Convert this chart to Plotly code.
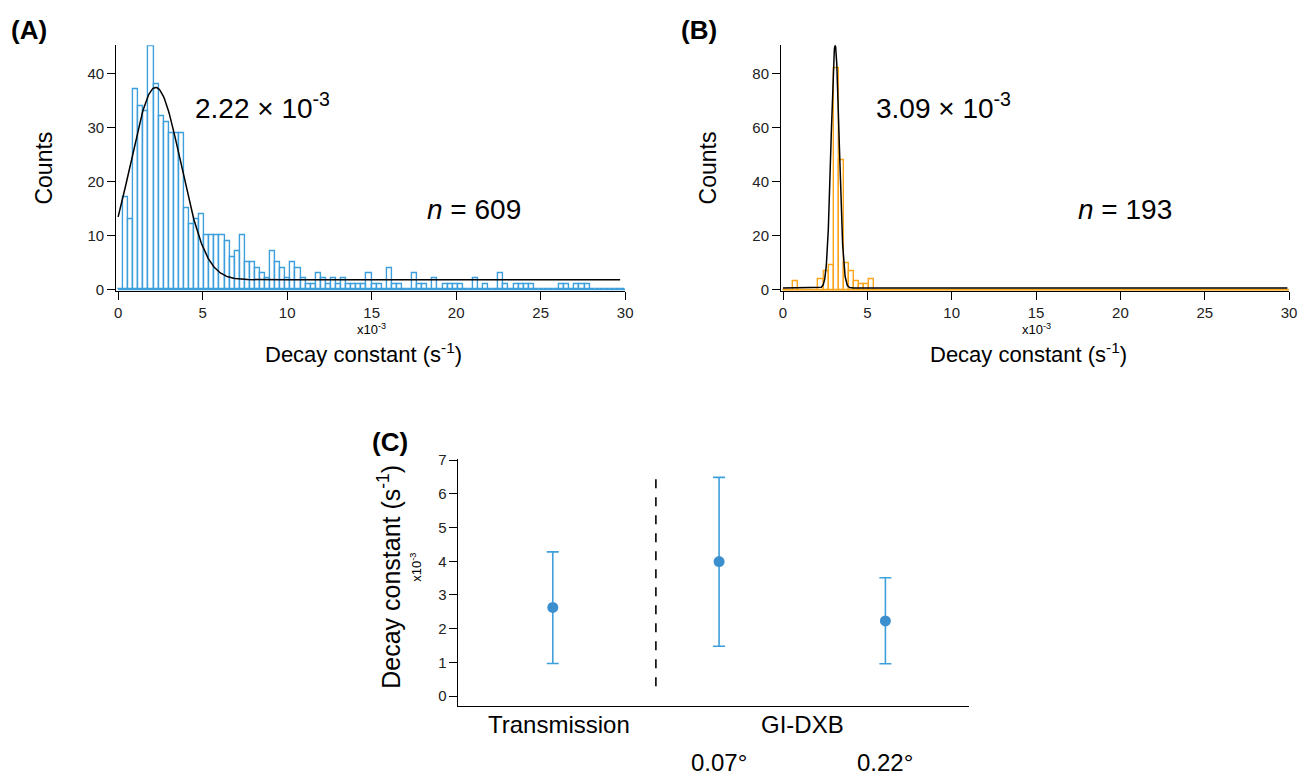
import numpy as np
import plotly.graph_objects as go

# ---------------- data ----------------
BIN_WIDTH = 0.3  # x10^-3 s^-1
A_COUNTS = [0, 17, 13, 37, 34, 33, 45, 38, 32, 31,
            29, 29, 29, 15, 12, 13, 14, 10, 10, 10,
            10, 9, 6, 7, 10, 5, 5, 4, 3, 2,
            7, 5, 4, 2, 5, 4, 2, 1, 1, 3,
            2, 1, 2, 1, 2, 1, 1, 1, 1, 3,
            1, 1, 0, 4, 1, 1, 0, 0, 3, 1,
            1, 0, 2, 0, 1, 1, 1, 1, 0, 0,
            2, 0, 1, 0, 0, 3, 1, 0, 1, 1,
            1, 1, 0, 0, 0, 0, 0, 1, 1, 0,
            1, 1, 1, 0, 0, 0, 0, 0, 0, 0]
B_COUNTS = [0, 0, 3, 0, 0, 0, 0, 4, 7, 9,
            82, 48, 10, 7, 3, 2, 2, 4] + [0] * 82

# Gaussian fits: (baseline, amplitude, centre, width)
A_FIT = (1.8, 35.6, 2.22, 2.10)
B_FIT = (0.7, 89.8, 3.09, 0.34)
A_N, B_N = 609, 193
A_LABEL, B_LABEL = "2.22", "3.09"

C_GROUPS = ["Transmission", "0.07°", "0.22°"]
C_POS = [1, 2, 3]
C_MEAN = [2.63, 3.99, 2.23]
C_UPPER = [4.28, 6.49, 3.51]
C_LOWER = [0.97, 1.48, 0.96]

# ---------------- helpers ----------------
W, H = 1307, 777
def px(x):
    return x / W
def py(y):
    return 1 - y / H

BLUE = "#3d9fdc"
ORANGE = "#fba51c"
PT_BLUE = "#3b8fcf"
FONT = "Liberation Sans, Arial, sans-serif"

edges = np.arange(0, 30 + 1e-9, BIN_WIDTH)
centers = edges[:-1] + BIN_WIDTH / 2

def gauss(x, p):
    y0, a, c, w = p
    return y0 + a * np.exp(-((x - c) / w) ** 2)

fig = go.Figure()

# Panel A
fig.add_trace(go.Scatter(x=[edges[0], edges[-1]], y=[0, 0], mode="lines",
                         line=dict(color=BLUE, width=1.5), xaxis="x", yaxis="y",
                         showlegend=False, hoverinfo="skip"))
fig.add_trace(go.Bar(x=centers, y=A_COUNTS, width=BIN_WIDTH,
                     marker=dict(color="rgba(0,0,0,0)", line=dict(color=BLUE, width=1.4)),
                     xaxis="x", yaxis="y", showlegend=False))
xa = np.linspace(0, 29.7, 600)
fig.add_trace(go.Scatter(x=xa, y=gauss(xa, A_FIT), mode="lines",
                         line=dict(color="black", width=1.5), xaxis="x", yaxis="y",
                         showlegend=False))

# Panel B
fig.add_trace(go.Scatter(x=[edges[0], edges[-1]], y=[0, 0], mode="lines",
                         line=dict(color=ORANGE, width=1.5), xaxis="x2", yaxis="y2",
                         showlegend=False, hoverinfo="skip"))
fig.add_trace(go.Bar(x=centers, y=B_COUNTS, width=BIN_WIDTH,
                     marker=dict(color="rgba(0,0,0,0)", line=dict(color=ORANGE, width=1.4)),
                     xaxis="x2", yaxis="y2", showlegend=False))
xb = np.linspace(0, 29.9, 3000)
fig.add_trace(go.Scatter(x=xb, y=gauss(xb, B_FIT), mode="lines",
                         line=dict(color="black", width=1.5), xaxis="x2", yaxis="y2",
                         showlegend=False))

# Panel C
fig.add_trace(go.Scatter(
    x=C_POS, y=C_MEAN, mode="markers",
    marker=dict(color=PT_BLUE, size=11),
    error_y=dict(type="data", symmetric=False,
                 array=[u - m for u, m in zip(C_UPPER, C_MEAN)],
                 arrayminus=[m - l for m, l in zip(C_MEAN, C_LOWER)],
                 color=BLUE, thickness=1.6, width=6),
    xaxis="x3", yaxis="y3", showlegend=False))

tickfont = dict(family=FONT, size=15, color="#222")
common = dict(showline=True, linecolor="black", linewidth=1, ticks="outside",
              ticklen=8, tickwidth=1, tickcolor="black", showgrid=False,
              zeroline=False, tickfont=tickfont)

fig.update_layout(
    width=W, height=H, margin=dict(l=0, r=0, t=0, b=0),
    paper_bgcolor="white", plot_bgcolor="white", bargap=0,
    xaxis=dict(domain=[px(115), px(628)], range=[-0.12, 30], tickvals=[0, 5, 10, 15, 20, 25, 30],
               anchor="y", **common),
    yaxis=dict(domain=[py(289), py(38)], range=[-0.35, 45.2], tickvals=[0, 10, 20, 30, 40],
               anchor="x", **common),
    xaxis2=dict(domain=[px(785), px(1297)], range=[-0.12, 30], tickvals=[0, 5, 10, 15, 20, 25, 30],
                anchor="y2", **common),
    yaxis2=dict(domain=[py(289), py(38)], range=[-0.6, 90.5], tickvals=[0, 20, 40, 60, 80],
                anchor="x2", **common),
    xaxis3=dict(domain=[px(460), px(974)], range=[0.433, 3.5], showline=True, linecolor="black",
                linewidth=1, showticklabels=False, ticks="", showgrid=False, zeroline=False,
                anchor="y3"),
    yaxis3=dict(domain=[py(712), py(460)], range=[-0.3, 7.03], tickvals=list(range(8)),
                anchor="x3", **common),
)

fig.add_shape(type="line", xref="x3", yref="y3", x0=1.62, x1=1.62, y0=0.29, y1=6.56,
              line=dict(color="black", width=1.6, dash="dash"))

ann = []
def add_text(text, x, y, size, xref="paper", yref="paper", angle=0, bold=False,
             xanchor="center", yanchor="middle"):
    if bold:
        text = "<b>" + text + "</b>"
    ann.append(dict(text=text, x=x, y=y, xref=xref, yref=yref, showarrow=False,
                    textangle=angle, xanchor=xanchor, yanchor=yanchor,
                    font=dict(family=FONT, size=size, color="black")))

# panel labels
add_text("(A)", px(7), py(22), 26, bold=True, xanchor="left")
add_text("(B)", px(682), py(22), 26, bold=True, xanchor="left")
add_text("(C)", px(371), py(443), 26, bold=True, xanchor="left")

# panel A texts
add_text("Counts", px(42), py(163), 23, angle=-90)
add_text("x10<sup>-3</sup>", px(372), py(327), 13)
add_text("Decay constant (s<sup>-1</sup>)", px(364), py(352), 22)
add_text(A_LABEL + " × 10<sup>-3</sup>", px(192), py(100), 28, xanchor="left")
add_text("<i>n</i> = " + str(A_N), px(426), py(205), 28, xanchor="left")

# panel B texts
add_text("Counts", px(711), py(163), 23, angle=-90)
add_text("x10<sup>-3</sup>", px(1042), py(327), 13)
add_text("Decay constant (s<sup>-1</sup>)", px(1034), py(352), 22)
add_text(B_LABEL + " × 10<sup>-3</sup>", px(879), py(100), 28, xanchor="left")
add_text("<i>n</i> = " + str(B_N), px(1082), py(205), 28, xanchor="left")

# panel C texts
add_text("Decay constant (s<sup>-1</sup>)", px(390), py(580), 25, angle=-90)
add_text("x10<sup>-3</sup>", px(417), py(570), 13, angle=-90)
add_text(C_GROUPS[0], C_POS[0] + 0.04, py(731), 24, xref="x3")
add_text("GI-DXB", (C_POS[1] + C_POS[2]) / 2, py(731), 24, xref="x3")
add_text(C_GROUPS[1], C_POS[1], py(769), 24, xref="x3")
add_text(C_GROUPS[2], C_POS[2], py(769), 24, xref="x3")

fig.update_layout(annotations=ann)
fig.write_html("out.html")
